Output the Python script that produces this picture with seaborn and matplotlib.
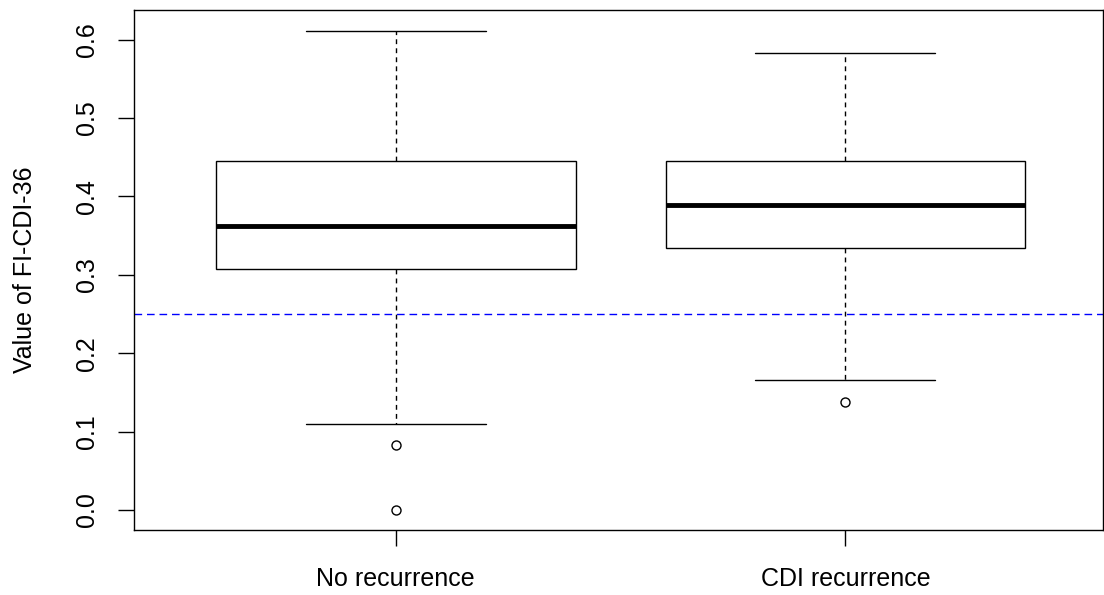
import pandas as pd
import numpy as np
import matplotlib
matplotlib.use("Agg")
import matplotlib.pyplot as plt
import seaborn as sns

# values (five-number summary + outliers per group)
groups = ["No recurrence", "CDI recurrence"]
no_recurrence = [0.0, 0.083, 0.110, 0.307, 0.33, 0.34, 0.362, 0.38, 0.41, 0.445, 0.50, 0.55, 0.611]
cdi_recurrence = [0.138, 0.166, 0.334, 0.36, 0.389, 0.42, 0.445, 0.50, 0.583]
cutoff = 0.25
yticks = [0.0, 0.1, 0.2, 0.3, 0.4, 0.5, 0.6]

df = pd.DataFrame({
    "group": [groups[0]] * len(no_recurrence) + [groups[1]] * len(cdi_recurrence),
    "value": no_recurrence + cdi_recurrence,
})

sns.set_style("ticks")
plt.rcParams["font.family"] = ["Liberation Sans", "DejaVu Sans"]
plt.rcParams["text.color"] = "black"
plt.rcParams["axes.labelcolor"] = "black"
plt.rcParams["xtick.color"] = "black"
plt.rcParams["ytick.color"] = "black"

fig = plt.figure(figsize=(11.04, 5.95), dpi=100)
ax = fig.add_axes([0.1214, 0.1092, 0.8777, 0.8735])

sns.boxplot(data=df, x="group", y="value", order=groups, ax=ax,
            width=0.8, color="white", saturation=1, linecolor="black",
            linewidth=1.0, whis=1.55,
            medianprops=dict(color="black", linewidth=3.5),
            whiskerprops=dict(color="black", linewidth=1.0, linestyle=(0, (3.5, 3))),
            capprops=dict(color="black", linewidth=1.0),
            flierprops=dict(marker="o", markerfacecolor="none", markeredgecolor="black",
                            markersize=6.5, markeredgewidth=1.0))

ax.axhline(cutoff, color="blue", linestyle=(0, (5.5, 3.5)), linewidth=1.0)

ax.set_xlim(-0.582, 1.573)
ax.set_ylim(-0.0255, 0.6375)
ax.set_yticks(yticks)
ax.set_yticklabels(["%.1f" % t for t in yticks])
ax.set_xlabel("")
ax.set_ylabel("Value of FI-CDI-36", fontsize=18, labelpad=27, color="black")

ax.tick_params(axis="both", labelsize=18, length=11.5, width=1.0, color="black",
               labelcolor="black")
ax.tick_params(axis="y", labelrotation=90, pad=14)
ax.tick_params(axis="x", pad=15)
for lab in ax.get_yticklabels():
    lab.set_verticalalignment("center")

for s in ax.spines.values():
    s.set_visible(True)
    s.set_color("black")
    s.set_linewidth(1.0)

fig.savefig("out.png", dpi=100)
